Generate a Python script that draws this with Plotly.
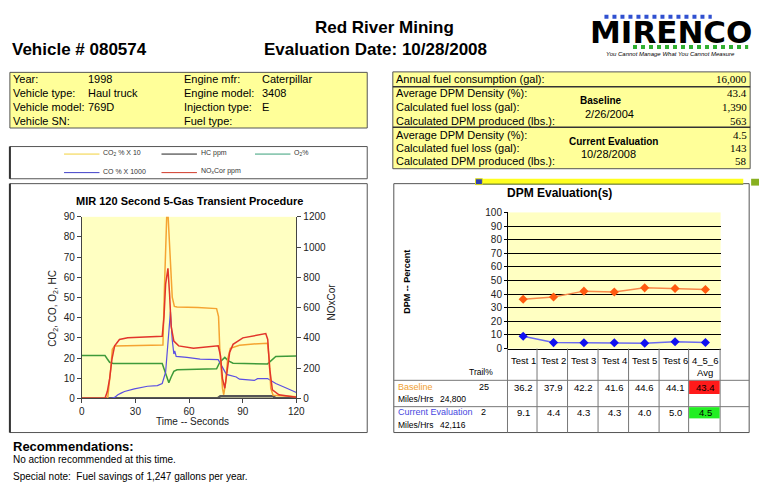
import plotly.graph_objects as go

W, H = 768, 501
def X(p): return p / W
def Y(p): return 1 - p / H

# ---------------- data ----------------
vehicle_id = "080574"
company = "Red River Mining"
eval_date = "10/28/2008"

vehicle_left_labels = ["Year:", "Vehicle type:", "Vehicle model:", "Vehicle SN:"]
vehicle_left_values = ["1998", "Haul truck", "769D", ""]
vehicle_right_labels = ["Engine mfr:", "Engine model:", "Injection type:", "Fuel type:"]
vehicle_right_values = ["Caterpillar", "3408", "E", ""]

annual_fuel = "16,000"
summary_labels = ["Average DPM Density (%):", "Calculated fuel loss (gal):", "Calculated DPM produced (lbs.):"]
baseline_summary = ["43.4", "1,390", "563"]
current_summary = ["4.5", "143", "58"]
baseline_date = "2/26/2004"

# 5-gas transient traces
t_co2 = [0, 14.5, 16.2, 17.1, 18.4, 30, 45.4, 46.3, 47.0, 47.8, 48.3, 49.6, 50.6, 51.8, 53.3, 65, 75.4, 76.5, 77.2, 78.7, 79.4, 80.5, 81.6, 83.1, 88.2, 96, 103.9, 104.8, 105.7, 107, 120]
co2_x10 = [0, 0, 14.7, 24.4, 26.0, 26.3, 26.5, 56.6, 90.2, 98, 90.2, 64.7, 50.2, 45.6, 45.3, 45.0, 44.5, 40.5, 24.4, 5.0, 1.8, 8.2, 19.5, 24.8, 26.3, 27.0, 27.3, 19.5, 5.0, 1.5, 0.8]

t_co = [0, 16.5, 18.4, 20.2, 22.0, 23.9, 29.4, 33.0, 36.8, 42.3, 45.0, 46.9, 48.3, 49.6, 50.6, 51.5, 52.0, 52.8, 58.8, 66.2, 76.3, 79.0, 80.9, 86.4, 88.2, 96.5, 98.3, 103.9, 105.7, 108.5, 114.0, 120]
co_x1000 = [0, 0, 0.5, 1.8, 2.6, 3.4, 4.7, 5.3, 6.0, 6.3, 7.4, 13.0, 27.6, 43.0, 29.0, 22.0, 23.5, 20.8, 20.3, 19.5, 19.2, 14.7, 11.9, 10.6, 9.5, 8.9, 9.8, 9.8, 8.9, 7.4, 5.3, 2.9]

t_o2 = [0, 13.0, 14.3, 15.6, 17.5, 45.0, 46.0, 47.8, 48.7, 50.0, 51.5, 53.3, 75.4, 77.2, 80.0, 81.8, 84.6, 103.9, 105.7, 108.5, 120]
o2 = [21.2, 21.2, 19.5, 17.9, 17.3, 17.3, 14.7, 9.8, 7.7, 10.6, 13.4, 14.2, 14.7, 17.9, 20.3, 18.7, 17.4, 17.1, 18.7, 20.8, 21.0]

t_hc = [0, 76, 77.5, 107, 108.5, 120]
hc = [0, 0, 1.0, 1.0, 0, 0]

t_nox = [0, 13.0, 14.3, 15.6, 16.9, 18.4, 21.1, 25.7, 45.0, 46.0, 46.9, 48.2, 49.1, 50.0, 51.5, 54.2, 62.5, 76.3, 77.6, 78.7, 80.0, 81.3, 82.7, 84.6, 90.1, 102.9, 104.0, 105.1, 106.6, 110.3, 120]
nox_ppm = [0, 0, 45, 130, 260, 347, 389, 400, 411, 540, 755, 859, 691, 475, 379, 347, 331, 347, 281, 131, 67, 173, 303, 357, 400, 428, 389, 196, 56, 24, 7]

# DPM evaluation
dpm_tests = ["Test 1", "Test 2", "Test 3", "Test 4", "Test 5", "Test 6", "4_5_6 Avg"]
baseline_dpm = [36.2, 37.9, 42.2, 41.6, 44.6, 44.1, 43.4]
current_dpm = [9.1, 4.4, 4.3, 4.3, 4.0, 5.0, 4.5]
baseline_trail = "25"
current_trail = "2"
baseline_miles = "24,800"
current_miles = "42,116"

recommendation = "No action recommended at this time."
special_note = "Special note:  Fuel savings of 1,247 gallons per year."

# ---------------- styling ----------------
SANS = "Arial, Liberation Sans, sans-serif"
SERIF = "Times New Roman, Liberation Serif, serif"
BOX_Y = "#FFFF99"
PLOT_Y = "#FFFFC2"
EDGE = "#555555"

C_CO2 = "#F5A431"
C_CO = "#5B4FE3"
C_O2 = "#3E9A3A"
C_HC = "#555555"
C_NOX = "#E2352B"

fig = go.Figure()

# left chart traces
fig.add_trace(go.Scatter(x=t_hc, y=hc, mode="lines", line=dict(color=C_HC, width=2.5), xaxis="x", yaxis="y", showlegend=False, hoverinfo="skip"))
fig.add_trace(go.Scatter(x=t_o2, y=o2, mode="lines", line=dict(color=C_O2, width=1.5), xaxis="x", yaxis="y", showlegend=False))
fig.add_trace(go.Scatter(x=t_co, y=co_x1000, mode="lines", line=dict(color=C_CO, width=1.2), xaxis="x", yaxis="y", showlegend=False))
fig.add_trace(go.Scatter(x=t_nox, y=nox_ppm, mode="lines", line=dict(color=C_NOX, width=1.5), xaxis="x", yaxis="y2", showlegend=False))
fig.add_trace(go.Scatter(x=t_co2, y=co2_x10, mode="lines", line=dict(color=C_CO2, width=1.5), xaxis="x", yaxis="y", showlegend=False))

# right chart traces
fig.add_trace(go.Scatter(x=dpm_tests, y=baseline_dpm, mode="lines+markers",
                         line=dict(color="#F7884A", width=1.5),
                         marker=dict(symbol="diamond", size=7, color="#FF5A10"),
                         xaxis="x3", yaxis="y3", showlegend=False))
fig.add_trace(go.Scatter(x=dpm_tests, y=current_dpm, mode="lines+markers",
                         line=dict(color="#6A6AF0", width=1.5),
                         marker=dict(symbol="diamond", size=7, color="#1010F0"),
                         xaxis="x3", yaxis="y3", showlegend=False))

shapes = []
ann = []

def rect(x0, y0, x1, y1, fill=None, color=EDGE, width=1, layer="below"):
    shapes.append(dict(type="rect", xref="paper", yref="paper", x0=X(x0), x1=X(x1), y0=Y(y1), y1=Y(y0),
                       fillcolor=fill if fill else "rgba(0,0,0,0)",
                       line=dict(color=color, width=width), layer=layer))

def line(x0, y0, x1, y1, color=EDGE, width=1, dash="solid"):
    shapes.append(dict(type="line", xref="paper", yref="paper", x0=X(x0), x1=X(x1), y0=Y(y0), y1=Y(y1),
                       line=dict(color=color, width=width, dash=dash)))

def text(x, y, s, size=11, anchor="left", bold=False, color="black", family=SANS, italic=False, angle=0, xref="paper"):
    if not s:
        return
    if bold:
        s = "<b>" + s + "</b>"
    if italic:
        s = "<i>" + s + "</i>"
    ann.append(dict(x=X(x) if xref == "paper" else x, y=Y(y), xref=xref, yref="paper", text=s, showarrow=False,
                    xanchor=anchor, yanchor="middle", textangle=angle,
                    font=dict(size=size, color=color, family=family), borderpad=0))

# ---- header ----
text(8, 45, "Vehicle # " + vehicle_id, size=17, bold=True)
text(388, 22, company, size=17, bold=True, anchor="center")
text(378, 45, "Evaluation Date: " + eval_date, size=17, bold=True, anchor="center")

# logo
line(611, 11, 720, 11, color="#3050D0", width=4, dash="dot")
text(679, 27, "MIRENCO", size=31, bold=True, anchor="center", family="DejaVu Sans, sans-serif")
line(640, 42, 757, 42, color="#30B030", width=4, dash="dot")
text(678, 49, "You Cannot Manage What You Cannot Measure", size=6, italic=True, anchor="center")

# ---- vehicle info box ----
rect(7, 68, 370, 125, fill=BOX_Y)
rows_y = [75, 89.3, 103.3, 118]
for i, yy in enumerate(rows_y):
    text(9, yy, vehicle_left_labels[i], size=11)
    text(85, yy, vehicle_left_values[i], size=11)
    text(183, yy, vehicle_right_labels[i], size=11)
    text(262, yy, vehicle_right_values[i], size=11)

# ---- summary box ----
rect(396, 67.5, 759, 166.7, fill=BOX_Y)
line(396, 82.7, 759, 82.7, color="#333", width=1.5)
line(396, 124.3, 759, 124.3, color="#333", width=1.5)
text(398, 75, "Annual fuel consumption (gal):", size=11)
text(757, 75, annual_fuel, size=11, anchor="right", family=SERIF)
for i, yy in enumerate([89.3, 103.3, 118.3]):
    text(398, yy, summary_labels[i], size=11)
    text(757, yy, baseline_summary[i], size=11, anchor="right", family=SERIF)
for i, yy in enumerate([131.7, 145.7, 159.3]):
    text(398, yy, summary_labels[i], size=11)
    text(757, yy, current_summary[i], size=11, anchor="right", family=SERIF)
text(607, 96.7, "Baseline", size=10, bold=True, anchor="center")
text(616, 110.5, baseline_date, size=11, anchor="center")
text(620, 139, "Current Evaluation", size=10, bold=True, anchor="center")
text(615, 152, eval_date, size=11, anchor="center")

# ---- legend box ----
rect(7, 144, 370, 177)
line(7, 144, 7, 177, color="#333", width=2)
leg = [(62, 151.7, "#F2D23C", "CO<sub>2</sub> % X 10"),
       (161, 151.7, "#222222", "HC ppm"),
       (256, 151.7, "#3AA07A", "O<sub>2</sub>%"),
       (62, 170.7, "#4040C8", "CO % X 1000"),
       (161, 170.7, "#D03A2A", "NO<sub>x</sub>Cor ppm")]
for x0, yy, col, lab in leg:
    line(x0, yy, x0 + 36, yy, color=col, width=1)
    text(x0 + 39, yy - 1.5, lab, size=7, color="#333")

# ---- left chart box ----
rect(7, 182, 370, 437)
line(7, 182, 7, 437, color="#333", width=2)
text(189, 200, "MIR 120 Second 5-Gas Transient Procedure", size=11, bold=True, anchor="center")
text(193, 426, "Time -- Seconds", size=10, anchor="center", color="#222")
text(50, 310, "CO<sub>2</sub>, CO, O<sub>2</sub>, HC", size=10, anchor="center", angle=-90, color="#222")
text(334, 303, "NOxCor", size=10, anchor="center", angle=-90, color="#222")

# ---- right chart box ----
rect(397, 182, 758, 437)
rect(480, 177, 752, 182.5, fill="#FFFF20", color="#FFFF20", width=0, layer="above")
line(480, 182.5, 752, 182.5, color="#556B2F", width=1)
rect(480, 177, 487, 183, fill="#3040B0", color="#E0E020", width=1, layer="above")
rect(760, 177, 768, 184, fill="#88B020", color="#88B020", width=0, layer="above")
text(565, 192, "DPM Evaluation(s)", size=12, bold=True, anchor="center")
text(411, 283, "DPM -- Percent", size=9, bold=True, anchor="center", angle=-90)

# table grid
bounds = [512.5, 542.5, 573.5, 604.5, 635.5, 666.5, 696.5, 728.5]
for bx in bounds:
    line(bx, 351, bx, 437, color="#777", width=1)
line(397, 383.5, 758, 383.5, color="#777", width=1)
line(397, 410.5, 758, 410.5, color="#777", width=1)
rect(697, 384, 728, 397.5, fill="#FF1A1A", color="#FF1A1A", width=0, layer="above")
rect(697, 411, 728, 422.5, fill="#22EE22", color="#22EE22", width=0, layer="above")

for i, cat in enumerate(dpm_tests):
    if i < 6:
        text(cat, 363, cat, size=9.5, anchor="center", xref="x3")
    else:
        parts = cat.split(" ")
        text(cat, 363, parts[0], size=9.5, anchor="center", xref="x3")
        text(cat, 375, parts[1], size=9.5, anchor="center", xref="x3")
    text(cat, 390.5, f"{baseline_dpm[i]:.1f}", size=9.5, anchor="center", xref="x3")
    text(cat, 416, f"{current_dpm[i]:.1f}", size=9.5, anchor="center", xref="x3")

text(472, 375, "Trail%", size=8.5)
text(400, 390.5, "Baseline", size=9, color="#F0A030")
text(483, 390.5, baseline_trail, size=9)
text(400, 403, "Miles/Hrs", size=8.5)
text(443, 403, baseline_miles, size=8.5)
text(400, 416, "Current Evaluation", size=9, color="#4848E0")
text(485, 416, current_trail, size=9)
text(400, 429, "Miles/Hrs", size=8.5)
text(443, 429, current_miles, size=8.5)

# ---- recommendations ----
text(9, 451, "Recommendations:", size=13, bold=True)
text(9, 464.5, recommendation, size=10)
text(9, 482, special_note, size=10)

axis_font = dict(size=10, color="#222", family=SANS)
fig.update_layout(
    width=W, height=H, margin=dict(l=0, r=0, t=0, b=0),
    paper_bgcolor="white", plot_bgcolor=PLOT_Y,
    showlegend=False,
    xaxis=dict(domain=[X(80), X(298)], range=[0, 120], tickvals=[0, 30, 60, 90, 120],
               ticks="outside", ticklen=4, tickcolor="#444", showline=True, linecolor="#444",
               showgrid=False, zeroline=False, anchor="y", tickfont=axis_font),
    yaxis=dict(domain=[Y(402), Y(216)], range=[0, 90], dtick=10, ticks="outside", ticklen=4,
               tickcolor="#444", showline=True, linecolor="#444", showgrid=False, zeroline=False,
               anchor="x", tickfont=axis_font),
    yaxis2=dict(overlaying="y", side="right", anchor="x", range=[0, 1200], dtick=200,
                ticks="outside", ticklen=4, tickcolor="#444", showline=True, linecolor="#444",
                showgrid=False, zeroline=False, tickfont=axis_font),
    xaxis3=dict(domain=[X(513), X(729)], anchor="y3", type="category", range=[-0.5, 6.5],
                categoryorder="array", categoryarray=dpm_tests,
                showticklabels=False, showline=True, linecolor="black", showgrid=False, zeroline=False),
    yaxis3=dict(domain=[Y(351), Y(211.5)], anchor="x3", range=[0, 100], dtick=10,
                ticks="outside", ticklen=3, tickcolor="black", showline=True, linecolor="black",
                showgrid=True, gridcolor="black", gridwidth=1, zeroline=False, tickfont=axis_font),
    shapes=shapes, annotations=ann,
)

fig.write_html("out.html", config={"displayModeBar": False},
               post_script="document.body.style.margin='0px';document.body.style.overflow='hidden';")
